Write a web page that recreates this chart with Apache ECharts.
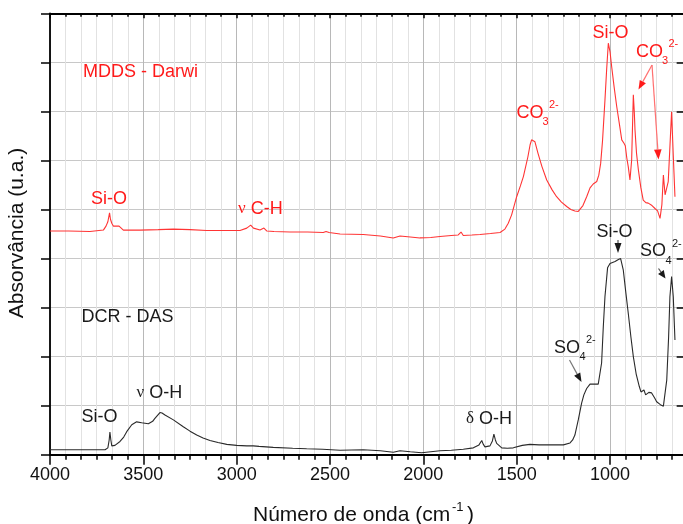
<!DOCTYPE html>
<html>
<head>
<meta charset="utf-8">
<script src="https://cdn.jsdelivr.net/npm/echarts@6/dist/echarts.min.js"></script>
<style>
  html, body { margin: 0; padding: 0; background: #fff; }
  #chart { width: 683px; height: 524px; }
</style>
</head>
<body>
<div id="chart"></div>
<script>
// FTIR spectra: wavenumber (cm-1) vs. absorbance (arbitrary units, curves offset)
const xTicks = [4000, 3500, 3000, 2500, 2000, 1500, 1000];

// MDDS - Darwi (red, offset upward)
const mddsWavenumber = [4000,3900,3786,3714,3700,3690,3681,3676,3669,3660,3652,3630,3622,3607,3518,3420,3339,3250,3161,3060,2982,2946,2925,2910,2900,2875,2854,2838,2800,2714,2620,2536,2521,2505,2446,2322,2230,2161,2125,2070,2018,1960,1911,1850,1813,1798,1786,1740,1696,1640,1589,1563,1545,1527,1500,1480,1464,1440,1428,1420,1410,1402,1386,1365,1339,1310,1286,1260,1232,1210,1188,1170,1161,1145,1125,1107,1090,1071,1060,1050,1040,1027,1018,1009,1000,991,978,964,950,937,925,918,910,902,893,884,878,875,870,866,858,848,835,822,808,795,775,759,745,732,722,714,705,688,680,670,661,652];
const mddsAbsorbance = [4.56,4.56,4.55,4.58,4.66,4.75,4.93,4.80,4.72,4.66,4.63,4.66,4.64,4.58,4.58,4.59,4.60,4.59,4.57,4.57,4.57,4.62,4.68,4.62,4.58,4.58,4.62,4.56,4.55,4.54,4.54,4.53,4.55,4.53,4.50,4.49,4.46,4.42,4.46,4.44,4.42,4.43,4.45,4.47,4.48,4.54,4.47,4.48,4.49,4.51,4.53,4.60,4.72,4.89,5.26,5.48,5.67,6.07,6.32,6.42,6.40,6.38,6.15,5.88,5.60,5.40,5.26,5.15,5.06,5.00,4.97,4.96,4.99,5.08,5.26,5.44,5.52,5.57,5.70,5.94,6.40,7.23,7.85,8.39,8.22,7.91,7.50,7.10,6.75,6.42,6.35,6.30,6.05,5.87,5.60,6.01,6.90,7.34,7.00,6.62,6.15,5.81,5.45,5.19,5.14,5.13,5.08,5.02,4.97,4.82,5.10,5.70,5.30,5.57,6.20,6.99,6.10,5.26];

// DCR - DAS (black)
const dcrWavenumber = [4000,3875,3705,3690,3683,3679,3674,3669,3660,3652,3625,3605,3589,3562,3536,3509,3473,3450,3438,3411,3400,3384,3339,3286,3250,3214,3180,3143,3100,3053,3000,2946,2911,2880,2804,2700,2625,2540,2446,2322,2230,2161,2125,2070,2009,1960,1911,1850,1786,1732,1702,1687,1680,1670,1643,1630,1622,1614,1607,1580,1550,1518,1470,1429,1380,1339,1300,1250,1214,1200,1188,1170,1152,1140,1125,1107,1063,1045,1036,1027,1013,1000,991,973,955,943,929,915,902,888,875,860,843,834,818,809,792,777,760,750,730,714,696,686,679,670,661,652];
const dcrAbsorbance = [0.10,0.10,0.10,0.14,0.30,0.46,0.30,0.18,0.17,0.19,0.27,0.36,0.47,0.61,0.67,0.65,0.63,0.68,0.74,0.86,0.85,0.81,0.71,0.57,0.48,0.40,0.34,0.29,0.25,0.21,0.19,0.18,0.18,0.17,0.15,0.13,0.12,0.11,0.09,0.10,0.08,0.05,0.08,0.06,0.04,0.06,0.08,0.09,0.11,0.14,0.20,0.29,0.22,0.16,0.18,0.28,0.42,0.30,0.23,0.14,0.13,0.14,0.19,0.21,0.20,0.20,0.20,0.20,0.24,0.30,0.40,0.71,1.05,1.22,1.35,1.44,1.44,1.87,2.60,3.22,3.81,3.90,3.94,3.94,3.98,4.00,3.77,3.30,2.88,2.40,2.00,1.65,1.39,1.28,1.32,1.22,1.27,1.26,1.15,1.08,1.02,0.99,1.52,2.40,3.22,3.63,3.22,2.34];

const pairs = (xs, ys) => xs.map((x, i) => [x, ys[i]]);

const FONT = '"Liberation Sans", Arial, sans-serif';
const SERIF = '"Liberation Serif", "DejaVu Serif", serif';
const RED = '#ff1a1a';
const INK = '#1a1a1a';

// Annotation helpers (pixel placement in the plot)
function txt(x, y, s, size, color, extra) {
  return Object.assign({
    type: 'text', x: x, y: y, z: 50,
    style: { text: s, font: size + 'px ' + FONT, fill: color, align: 'left', verticalAlign: 'middle' }
  }, extra || {});
}
function richTxt(x, y, s, rich, color) {
  return {
    type: 'text', x: x, y: y, z: 50,
    style: { text: s, rich: rich, fill: color, font: '18px ' + FONT, align: 'left', verticalAlign: 'middle' }
  };
}
const greekRich = (color) => ({
  g: { fontFamily: SERIF, fontSize: 17, fill: color },
  t: { fontFamily: FONT, fontSize: 18, fill: color }
});
// ion label: base text, subscript, superscript
function ion(x, y, base, sub, sup, color) {
  const w = base === 'CO' ? 25.5 : 25;
  return [
    txt(x, y, base, 18, color),
    txt(x + w + 0.5, y + 9, sub, 11, color),
    txt(x + w + 7, y - 8, sup, 11, color)
  ];
}
function arrow(x1, y1, x2, y2, lineColor, headColor, len, half) {
  const dx = x2 - x1, dy = y2 - y1, d = Math.hypot(dx, dy);
  const ux = dx / d, uy = dy / d;
  const bx = x2 - ux * len, by = y2 - uy * len;
  return [
    { type: 'line', z: 40, shape: { x1: x1, y1: y1, x2: bx, y2: by },
      style: { stroke: lineColor, lineWidth: 1.2 } },
    { type: 'polygon', z: 41,
      shape: { points: [[x2, y2], [bx - uy * half, by + ux * half], [bx + uy * half, by - ux * half]] },
      style: { fill: headColor } }
  ];
}

const annotations = [].concat(
  // red spectrum labels
  [txt(83, 72, 'MDDS - Darwi', 18, RED)],
  [txt(91, 199.5, 'Si-O', 18, RED)],
  [richTxt(238, 209, '{g|ν} {t|C-H}', greekRich(RED), RED)],
  ion(516.5, 113, 'CO', '3', '2-', RED),
  [txt(592.5, 33, 'Si-O', 18, RED)],
  ion(636, 52, 'CO', '3', '2-', RED),
  arrow(652, 65, 638.5, 89.5, '#ff7070', RED, 9, 3.5),
  arrow(652, 65, 658.5, 159.5, '#ff7070', RED, 10, 3.8),
  // black spectrum labels
  [txt(81.5, 317, 'DCR - DAS', 18, INK)],
  [txt(81.5, 417, 'Si-O', 18, INK)],
  [richTxt(136.5, 393, '{g|ν} {t|O-H}', greekRich(INK), INK)],
  [richTxt(466, 419, '{g|δ} {t|O-H}', greekRich(INK), INK)],
  ion(554, 348, 'SO', '4', '2-', INK),
  arrow(569.5, 360, 581.5, 382, '#777', INK, 9, 3.5),
  [txt(596.5, 232, 'Si-O', 18, INK)],
  arrow(618, 240, 618, 253, '#555', INK, 10, 3.5),
  ion(640, 251.5, 'SO', '4', '2-', INK),
  arrow(658.5, 268.5, 665.5, 278.5, '#555', INK, 8, 3.5),
  // axis titles
  [txt(17.5, 233, 'Absorvância (u.a.)', 21, '#111', { rotation: Math.PI / 2, style: { text: 'Absorvância (u.a.)', font: '21px ' + FONT, fill: '#111', align: 'center', verticalAlign: 'middle' } })],
  [txt(253, 515, 'Número de onda (cm', 21, '#111')],
  [txt(452, 507, '-1', 13, '#111')],
  [txt(467, 515, ')', 21, '#111')]
);

const chart = echarts.init(document.getElementById('chart'), null, { renderer: 'canvas' });

const axisLineStyle = { color: '#000', width: 1.8 };

chart.setOption({
  animation: false,
  backgroundColor: '#fff',
  grid: { left: 50, top: 13.3, bottom: 69.3, right: -20.33, containLabel: false, outerBoundsMode: 'none' },
  xAxis: [
    {
      type: 'value', position: 'bottom', inverse: true,
      min: 500, max: 4000, interval: 500,
      axisLine: { show: true, onZero: false, lineStyle: axisLineStyle },
      axisTick: { show: true, inside: false, length: 10, lineStyle: { color: '#000', width: 1.5 } },
      minorTick: { show: true, splitNumber: 6, length: 5, lineStyle: { color: '#000', width: 1.5 } },
      axisLabel: {
        show: true, margin: 11, fontSize: 18, fontFamily: FONT, color: '#111',
        formatter: (v) => xTicks.indexOf(v) >= 0 ? String(v) : ''
      },
      splitLine: { show: true, lineStyle: { color: '#b8b8b8', width: 1 } },
      minorSplitLine: { show: true, lineStyle: { color: '#e2e2e2', width: 1 } }
    },
    {
      type: 'value', position: 'top', inverse: true,
      min: 500, max: 4000, interval: 500,
      axisLine: { show: true, onZero: false, lineStyle: axisLineStyle },
      axisTick: { show: true, inside: true, length: 5, lineStyle: { color: '#000', width: 1.5 } },
      minorTick: { show: true, splitNumber: 6, length: 3.5, lineStyle: { color: '#000', width: 1.5 } },
      axisLabel: { show: false },
      splitLine: { show: false }
    }
  ],
  yAxis: [
    {
      type: 'value', position: 'left', min: 0, max: 9, interval: 1,
      axisLine: { show: true, onZero: false, lineStyle: axisLineStyle },
      axisTick: { show: true, inside: false, length: 9, lineStyle: { color: '#000', width: 1.5 } },
      axisLabel: { show: false },
      splitLine: { show: true, lineStyle: { color: '#c8c8c8', width: 1 } }
    },
    {
      type: 'value', position: 'right', offset: -18.67, min: 0, max: 9, interval: 1,
      axisLine: { show: true, onZero: false, lineStyle: axisLineStyle },
      axisTick: { show: true, inside: true, length: 8, lineStyle: { color: '#000', width: 1.5 } },
      axisLabel: { show: false },
      splitLine: { show: false }
    }
  ],
  series: [
    {
      name: 'MDDS - Darwi', type: 'line', xAxisIndex: 0, yAxisIndex: 0,
      data: pairs(mddsWavenumber, mddsAbsorbance),
      showSymbol: false, smooth: false, z: 5,
      lineStyle: { color: '#ff3434', width: 1.1 }
    },
    {
      name: 'DCR - DAS', type: 'line', xAxisIndex: 0, yAxisIndex: 0,
      data: pairs(dcrWavenumber, dcrAbsorbance),
      showSymbol: false, smooth: false, z: 5,
      lineStyle: { color: '#2a2a2a', width: 1.1 }
    }
  ],
  graphic: annotations
});
</script>
</body>
</html>
